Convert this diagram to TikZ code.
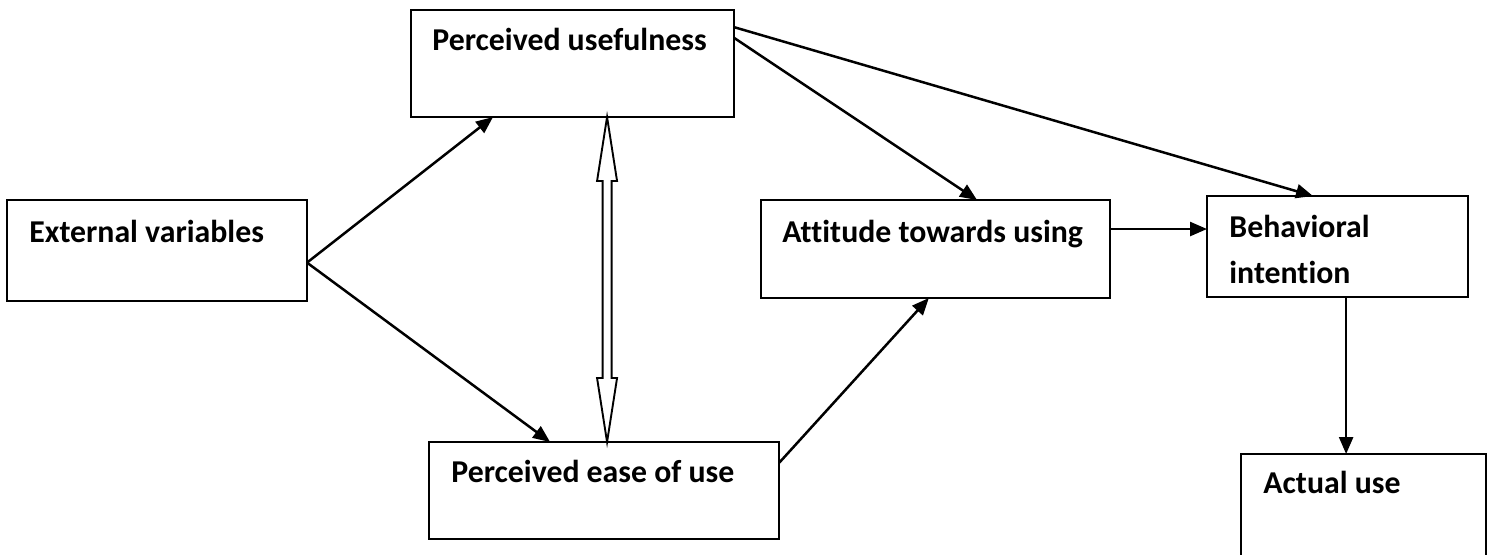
\documentclass[tikz,border=0pt]{standalone}
\usepackage{fontspec}
\setmainfont{Carlito}[Ligatures={NoCommon}]
\usetikzlibrary{arrows.meta,calc}
\begin{document}
\begin{tikzpicture}[x=0.5pt,y=-0.5pt,
  box/.style={draw, line width=1.05pt, anchor=north west, inner sep=0pt, outer sep=0pt},
  lbl/.style={anchor=base west, inner sep=0pt, font=\fontsize{15.9}{22.85}\selectfont\bfseries, align=left},
  conn/.style={line width=1.25pt, -{Triangle[length=8.5pt,width=7pt]}},
  dbl/.style={line width=0.95pt, line join=miter}]
\useasboundingbox (0,0) rectangle (1492,554);
\clip (0,0) rectangle (1492,554);
\fill[white] (0,0) rectangle (1492,554);

% boxes
\node[box, minimum width=150pt, minimum height=50.5pt] (ev) at (7,200) {};
\node[box, minimum width=161.5pt, minimum height=53.5pt] (pu) at (411,10) {};
\node[box, minimum width=174.5pt, minimum height=49pt] (at) at (761,200) {};
\node[box, minimum width=130.5pt, minimum height=50.5pt] (bi) at (1207,196) {};
\node[box, minimum width=175pt, minimum height=48.5pt] (eu) at (429,442) {};
\node[box, minimum width=122.5pt, minimum height=60pt] (au) at (1241,454) {};

% labels
\node[lbl] (evt) at (29,242) {External variables};
\node[lbl] (put) at (432,50) {Perceived usefulness};
\node[lbl] (att) at (782,242) {Attitude towards using};
\node[lbl] (bit) at (1229,283) {Behavioral\\intention};
\node[lbl] (eut) at (451,482) {Perceived ease of use};
\node[lbl] (aut) at (1263,493) {Actual use};

% connectors
\coordinate (evs) at ($(ev.north east)!0.62!(ev.south east)$);
\draw[conn] (evs) -- ($(pu.south west)!0.254!(pu.south east)$);
\draw[conn] (evs) -- ($(eu.north west)!0.346!(eu.north east)$);
\draw[conn] ($(pu.north east)!0.26!(pu.south east)$) -- ($(at.north west)!0.619!(at.north east)$);
\draw[conn] ($(pu.north east)!0.16!(pu.south east)$) -- ($(bi.north west)!0.406!(bi.north east)$);
\coordinate (ate) at ($(at.north east)!0.296!(at.south east)$);
\draw[conn] (ate) -- (ate -| bi.west);
\draw[conn] ($(eu.north east)!0.216!(eu.south east)$) -- ($(at.south west)!0.481!(at.south east)$);
\coordinate (bis) at ($(bi.south west)!0.533!(bi.south east)$);
\draw[conn] (bis) -- (bis |- au.north);

% hollow double arrow
\coordinate (dt) at ($(pu.south west)!0.607!(pu.south east)$);
\coordinate (db) at (dt |- eu.north);
\draw[dbl] (dt) -- ($(dt)+(10,64)$) -- ($(dt)+(4.5,64)$) -- ($(db)+(4.5,-64)$) -- ($(db)+(10,-64)$)
  -- (db) -- ($(db)+(-10,-64)$) -- ($(db)+(-4.5,-64)$) -- ($(dt)+(-4.5,64)$) -- ($(dt)+(-10,64)$) -- cycle;
\end{tikzpicture}
\end{document}
